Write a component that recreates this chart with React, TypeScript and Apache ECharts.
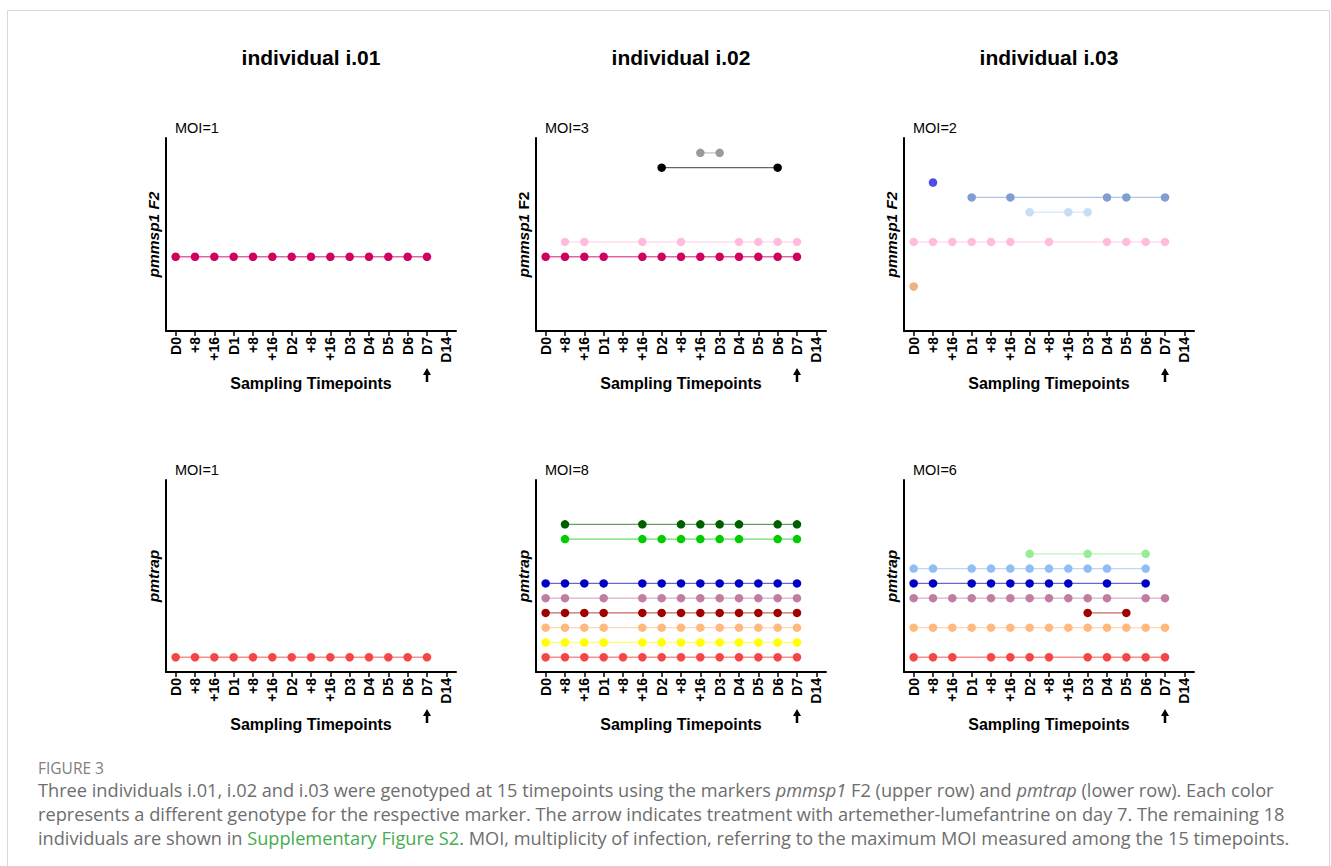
import React, { useEffect, useRef } from "react";
import * as echarts from "echarts";

const timepoints = ["D0", "+8", "+16", "D1", "+8", "+16", "D2", "+8", "+16", "D3", "D4", "D5", "D6", "D7", "D14"];
const individuals = ["individual i.01", "individual i.02", "individual i.03"];
const moiMsp1 = [1, 3, 2];
const moiTrap = [1, 8, 6];
const treatmentIndex = 13; // D7

// time indices (into timepoints) at which each genotype was detected
const i01Msp1_L5 = [0, 1, 2, 3, 4, 5, 6, 7, 8, 9, 10, 11, 12, 13];
const i02Msp1_L5 = [0, 1, 2, 3, 5, 6, 7, 8, 9, 10, 11, 12, 13];
const i02Msp1_L6 = [1, 2, 5, 7, 10, 11, 12, 13];
const i02Msp1_L11 = [6, 12];
const i02Msp1_L12 = [8, 9];
const i03Msp1_L3 = [0];
const i03Msp1_L6 = [0, 1, 2, 3, 4, 5, 7, 10, 11, 12, 13];
const i03Msp1_L8 = [6, 8, 9];
const i03Msp1_L9 = [3, 5, 10, 11, 13];
const i03Msp1_L10 = [1];

const i01Trap_L1 = [0, 1, 2, 3, 4, 5, 6, 7, 8, 9, 10, 11, 12, 13];
const i02Trap_L1 = [0, 1, 2, 3, 4, 5, 6, 7, 8, 9, 10, 11, 12, 13];
const i02Trap_L2 = [0, 1, 2, 3, 5, 6, 7, 8, 9, 10, 11, 12, 13];
const i02Trap_L3 = [0, 1, 2, 3, 5, 6, 7, 8, 9, 10, 11, 12, 13];
const i02Trap_L4 = [0, 1, 2, 3, 5, 6, 7, 8, 9, 10, 11, 12, 13];
const i02Trap_L5 = [0, 1, 3, 5, 6, 7, 8, 9, 10, 11, 12, 13];
const i02Trap_L6 = [0, 1, 2, 3, 5, 6, 7, 8, 9, 10, 11, 12, 13];
const i02Trap_L9 = [1, 5, 6, 7, 8, 9, 10, 12, 13];
const i02Trap_L10 = [1, 5, 7, 8, 9, 10, 12, 13];
const i03Trap_L1 = [0, 1, 2, 4, 5, 6, 7, 9, 10, 11, 12, 13];
const i03Trap_L3 = [0, 1, 2, 3, 4, 5, 6, 7, 8, 9, 10, 11, 12, 13];
const i03Trap_L4 = [9, 11];
const i03Trap_L5 = [0, 1, 2, 3, 4, 5, 6, 7, 8, 9, 10, 12, 13];
const i03Trap_L6 = [0, 1, 3, 4, 5, 6, 7, 8, 10, 12];
const i03Trap_L7 = [0, 1, 3, 4, 5, 6, 7, 8, 9, 10, 12];
const i03Trap_L8 = [6, 9, 12];

const msp1Colors: Record<number, string> = {
  3: "#f2b07b", 5: "#d1025f", 6: "#ffbcdd", 8: "#c6ddf6", 9: "#7e9fcf", 10: "#4c4ce6", 11: "#000000", 12: "#9a9a9a",
};
const trapColors: Record<number, string> = {
  1: "#f54545", 2: "#ffff00", 3: "#ffb97e", 4: "#a00000", 5: "#c07ea2", 6: "#0000c4", 7: "#90bdf3", 8: "#95ee95", 9: "#00cc00", 10: "#005e00",
};

type Track = [number, number[]];
const panels: { tracks: Track[]; colors: Record<number, string> }[] = [
  { tracks: [[5, i01Msp1_L5]], colors: msp1Colors },
  { tracks: [[5, i02Msp1_L5], [6, i02Msp1_L6], [11, i02Msp1_L11], [12, i02Msp1_L12]], colors: msp1Colors },
  { tracks: [[3, i03Msp1_L3], [6, i03Msp1_L6], [8, i03Msp1_L8], [9, i03Msp1_L9], [10, i03Msp1_L10]], colors: msp1Colors },
  { tracks: [[1, i01Trap_L1]], colors: trapColors },
  {
    tracks: [[1, i02Trap_L1], [2, i02Trap_L2], [3, i02Trap_L3], [4, i02Trap_L4], [5, i02Trap_L5], [6, i02Trap_L6], [9, i02Trap_L9], [10, i02Trap_L10]],
    colors: trapColors,
  },
  {
    tracks: [[1, i03Trap_L1], [3, i03Trap_L3], [4, i03Trap_L4], [5, i03Trap_L5], [6, i03Trap_L6], [7, i03Trap_L7], [8, i03Trap_L8]],
    colors: trapColors,
  },
];

const FONT = "'Liberation Sans', Arial, sans-serif";
const CAP_FONT = "'Open Sans', sans-serif";
const CAP_SIZE = 18.2;
const colLefts = [166, 536, 904];
const rowTops = [138, 480];
const rowHeights = [193, 192];
const gridWidth = 290;

export default function App() {
  const ref = useRef<HTMLDivElement>(null);
  useEffect(() => {
    document.body.style.margin = "0";
    const chart = echarts.init(ref.current!, undefined, { renderer: "svg" });
    const grids: any[] = [];
    const xAxes: any[] = [];
    const yAxes: any[] = [];
    const series: any[] = [];
    panels.forEach((p, i) => {
      const row = Math.floor(i / 3);
      const col = i % 3;
      grids.push({ left: colLefts[col], top: rowTops[row], width: gridWidth, height: rowHeights[row], containLabel: false });
      xAxes.push({
        type: "category",
        gridIndex: i,
        data: timepoints,
        boundaryGap: true,
        axisLine: { show: true, lineStyle: { color: "#000", width: 2 } },
        axisTick: { show: true, alignWithLabel: true, interval: 0, length: 5, lineStyle: { color: "#000", width: 1.5 } },
        axisLabel: { interval: 0, rotate: 90, margin: 6, color: "#000", fontWeight: "bold", fontSize: 14, fontFamily: FONT },
        splitLine: { show: false },
        name: "Sampling Timepoints",
        nameLocation: "middle",
        nameGap: 44,
        nameTextStyle: { color: "#000", fontWeight: "bold", fontSize: 16, fontFamily: FONT },
      });
      const italicF2 = col !== 1;
      yAxes.push({
        type: "value",
        gridIndex: i,
        min: 0,
        max: 13,
        axisLine: { show: true, lineStyle: { color: "#000", width: 2 } },
        axisTick: { show: false },
        axisLabel: { show: false },
        splitLine: { show: false },
        name: row === 0 ? "{i|pmmsp1} {" + (italicF2 ? "i" : "n") + "|F2}" : "{i|pmtrap}",
        nameLocation: "middle",
        nameRotate: 90,
        nameGap: 5,
        nameTextStyle: {
          color: "#000",
          fontWeight: "bold",
          fontSize: 15,
          fontFamily: FONT,
          rich: {
            i: { fontStyle: "italic", fontWeight: "bold", fontSize: 15.5, fontFamily: FONT, color: "#000" },
            n: { fontStyle: "normal", fontWeight: "bold", fontSize: 15.5, fontFamily: FONT, color: "#000" },
          },
        },
      });
      p.tracks.forEach(([level, idxs]) => {
        const c = p.colors[level];
        series.push({
          type: "line",
          xAxisIndex: i,
          yAxisIndex: i,
          data: idxs.map((t) => [t, level]),
          symbol: "circle",
          symbolSize: 8.5,
          showSymbol: true,
          itemStyle: { color: c, opacity: 1 },
          lineStyle: { color: c, width: 1.3, opacity: 0.6 },
          emphasis: { disabled: true },
          silent: true,
          z: 2,
        });
      });
    });

    chart.setOption({
      animation: false,
      backgroundColor: "#fff",
      grid: grids,
      xAxis: xAxes,
      yAxis: yAxes,
      series,
    });

    const graphic: any[] = [];
    graphic.push({
      type: "rect",
      shape: { x: 7.5, y: 10.5, width: 1322, height: 900 },
      style: { fill: "none", stroke: "#d8d8d8", lineWidth: 1 },
      silent: true,
      z: -10,
    });
    individuals.forEach((name, col) => {
      graphic.push({
        type: "text",
        x: colLefts[col] + gridWidth / 2,
        y: 57,
        style: { text: name, fill: "#000", font: "bold 21px " + FONT, textAlign: "center", textVerticalAlign: "middle" },
      });
    });
    panels.forEach((_p, i) => {
      const row = Math.floor(i / 3);
      const col = i % 3;
      const moi = row === 0 ? moiMsp1[col] : moiTrap[col];
      graphic.push({
        type: "text",
        x: colLefts[col] + 9,
        y: rowTops[row] - 10,
        style: { text: "MOI=" + moi, fill: "#000", font: "14.5px " + FONT, textAlign: "left", textVerticalAlign: "middle" },
      });
      const [px, py] = chart.convertToPixel({ gridIndex: i }, [treatmentIndex, 0]) as number[];
      const tip = py + 37;
      graphic.push({
        type: "polygon",
        shape: { points: [[px, tip], [px - 4, tip + 7], [px + 4, tip + 7]] },
        style: { fill: "#000" },
      });
      graphic.push({
        type: "line",
        shape: { x1: px, y1: tip + 6, x2: px, y2: tip + 14 },
        style: { stroke: "#000", lineWidth: 2.5 },
      });
    });
    const capBase = { fill: "#6e6e6e", font: CAP_SIZE + "px " + CAP_FONT, textVerticalAlign: "middle" };
    const ital = { fontStyle: "italic", fill: "#6e6e6e", fontSize: CAP_SIZE, fontFamily: CAP_FONT };
    const norm = { fill: "#6e6e6e", fontSize: CAP_SIZE, fontFamily: CAP_FONT };
    graphic.push({
      type: "text",
      x: 38,
      y: 768,
      style: { text: "FIGURE 3", fill: "#808080", font: "15.5px " + CAP_FONT, textVerticalAlign: "middle" },
    });
    graphic.push({
      type: "text",
      x: 38,
      y: 790,
      style: {
        ...capBase,
        text:
          "{n|Three individuals i.01, i.02 and i.03 were genotyped at 15 timepoints using the markers }{i|pmmsp1}{n| F2 (upper row) and }{i|pmtrap}{n| (lower row). Each color}",
        rich: { n: norm, i: ital },
      },
    });
    graphic.push({
      type: "text",
      x: 38,
      y: 814,
      style: {
        ...capBase,
        text: "represents a different genotype for the respective marker. The arrow indicates treatment with artemether-lumefantrine on day 7. The remaining 18",
      },
    });
    graphic.push({
      type: "text",
      x: 38,
      y: 838,
      style: {
        ...capBase,
        text:
          "{n|individuals are shown in }{g|Supplementary Figure S2}{n|. MOI, multiplicity of infection, referring to the maximum MOI measured among the 15 timepoints.}",
        rich: { n: norm, g: { fill: "#44ad4e", fontSize: CAP_SIZE, fontFamily: CAP_FONT } },
      },
    });
    chart.setOption({ graphic });

    return () => chart.dispose();
  }, []);
  return <div ref={ref} style={{ width: 1331, height: 866, position: "absolute", left: 0, top: 0 }} />;
}
